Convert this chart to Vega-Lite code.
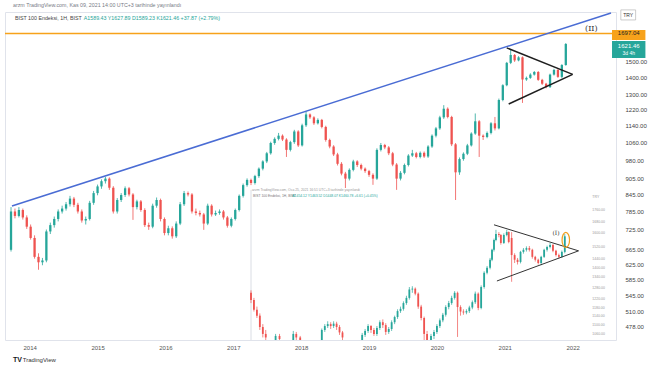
{
"$schema": "https://vega.github.io/schema/vega-lite/v6.json",
"width": 611, "height": 328,
"autosize": "none",
"padding": {"left": 5, "top": 12, "right": 38, "bottom": 26},
"background": "white",
"config": {"view": {"stroke": "#e0e3eb"}, "font": "Liberation Sans"},
"datasets": {
"main": [
{"t":2013.725,"o":665,"h":800,"l":660,"c":785},{"t":2013.783,"o":785,"h":795,"l":762,"c":770},{"t":2013.841,"o":770,"h":800,"l":765,"c":790},{"t":2013.899,"o":790,"h":795,"l":758,"c":765},{"t":2013.957,"o":765,"h":772,"l":728,"c":735},{"t":2014.014,"o":735,"h":742,"l":695,"c":700},{"t":2014.072,"o":700,"h":708,"l":640,"c":645},{"t":2014.130,"o":645,"h":655,"l":610,"c":630},{"t":2014.188,"o":630,"h":642,"l":622,"c":635},{"t":2014.246,"o":635,"h":726,"l":630,"c":720},
{"t":2014.304,"o":720,"h":748,"l":712,"c":740},{"t":2014.362,"o":740,"h":768,"l":732,"c":760},{"t":2014.420,"o":760,"h":792,"l":752,"c":785},{"t":2014.478,"o":785,"h":805,"l":778,"c":795},{"t":2014.536,"o":795,"h":818,"l":788,"c":810},{"t":2014.594,"o":810,"h":840,"l":802,"c":830},{"t":2014.652,"o":830,"h":836,"l":800,"c":808},{"t":2014.710,"o":808,"h":815,"l":778,"c":785},{"t":2014.768,"o":785,"h":792,"l":748,"c":755},{"t":2014.826,"o":755,"h":768,"l":742,"c":760},
{"t":2014.884,"o":760,"h":822,"l":755,"c":815},{"t":2014.942,"o":815,"h":858,"l":808,"c":850},{"t":2015.000,"o":850,"h":882,"l":842,"c":875},{"t":2015.058,"o":875,"h":902,"l":866,"c":895},{"t":2015.116,"o":895,"h":912,"l":886,"c":905},{"t":2015.174,"o":905,"h":910,"l":862,"c":870},{"t":2015.232,"o":870,"h":876,"l":778,"c":785},{"t":2015.290,"o":785,"h":832,"l":778,"c":825},{"t":2015.348,"o":825,"h":850,"l":818,"c":843},{"t":2015.406,"o":843,"h":875,"l":836,"c":868},
{"t":2015.464,"o":868,"h":873,"l":838,"c":845},{"t":2015.522,"o":845,"h":850,"l":757,"c":800},{"t":2015.580,"o":800,"h":826,"l":792,"c":820},{"t":2015.638,"o":820,"h":825,"l":784,"c":790},{"t":2015.696,"o":790,"h":796,"l":734,"c":740},{"t":2015.754,"o":740,"h":748,"l":725,"c":735},{"t":2015.812,"o":735,"h":812,"l":730,"c":805},{"t":2015.870,"o":805,"h":834,"l":798,"c":825},{"t":2015.928,"o":825,"h":830,"l":752,"c":760},{"t":2015.986,"o":760,"h":765,"l":708,"c":715},
{"t":2016.043,"o":715,"h":738,"l":708,"c":730},{"t":2016.101,"o":730,"h":736,"l":698,"c":705},{"t":2016.159,"o":705,"h":752,"l":700,"c":745},{"t":2016.217,"o":745,"h":818,"l":740,"c":810},{"t":2016.275,"o":810,"h":858,"l":804,"c":850},{"t":2016.333,"o":850,"h":856,"l":838,"c":845},{"t":2016.391,"o":845,"h":850,"l":778,"c":785},{"t":2016.449,"o":785,"h":795,"l":772,"c":780},{"t":2016.507,"o":780,"h":788,"l":768,"c":775},{"t":2016.565,"o":775,"h":780,"l":725,"c":745},
{"t":2016.623,"o":745,"h":812,"l":740,"c":805},{"t":2016.681,"o":805,"h":810,"l":768,"c":775},{"t":2016.739,"o":775,"h":788,"l":770,"c":780},{"t":2016.797,"o":780,"h":792,"l":774,"c":785},{"t":2016.855,"o":785,"h":790,"l":758,"c":765},{"t":2016.913,"o":765,"h":770,"l":732,"c":738},{"t":2016.971,"o":738,"h":765,"l":733,"c":760},{"t":2017.029,"o":760,"h":795,"l":755,"c":790},{"t":2017.087,"o":790,"h":845,"l":785,"c":840},{"t":2017.145,"o":840,"h":886,"l":834,"c":880},
{"t":2017.203,"o":880,"h":906,"l":874,"c":900},{"t":2017.261,"o":900,"h":905,"l":880,"c":888},{"t":2017.319,"o":888,"h":920,"l":882,"c":915},{"t":2017.377,"o":915,"h":950,"l":908,"c":945},{"t":2017.435,"o":945,"h":980,"l":938,"c":975},{"t":2017.493,"o":975,"h":1016,"l":968,"c":1010},{"t":2017.551,"o":1010,"h":1062,"l":1004,"c":1056},{"t":2017.609,"o":1056,"h":1082,"l":1048,"c":1075},{"t":2017.667,"o":1075,"h":1103,"l":1068,"c":1090},{"t":2017.725,"o":1090,"h":1096,"l":1065,"c":1072},
{"t":2017.783,"o":1072,"h":1078,"l":994,"c":1025},{"t":2017.841,"o":1025,"h":1066,"l":1018,"c":1060},{"t":2017.899,"o":1060,"h":1118,"l":1052,"c":1110},{"t":2017.957,"o":1110,"h":1116,"l":1038,"c":1045},{"t":2018.014,"o":1045,"h":1148,"l":1040,"c":1140},{"t":2018.072,"o":1140,"h":1210,"l":1132,"c":1195},{"t":2018.130,"o":1195,"h":1200,"l":1172,"c":1180},{"t":2018.188,"o":1180,"h":1186,"l":1142,"c":1150},{"t":2018.246,"o":1150,"h":1175,"l":1144,"c":1167},{"t":2018.304,"o":1167,"h":1172,"l":1125,"c":1132},
{"t":2018.362,"o":1132,"h":1138,"l":1062,"c":1070},{"t":2018.420,"o":1070,"h":1076,"l":1032,"c":1040},{"t":2018.478,"o":1040,"h":1046,"l":998,"c":1005},{"t":2018.536,"o":1005,"h":1012,"l":958,"c":965},{"t":2018.594,"o":965,"h":972,"l":918,"c":925},{"t":2018.652,"o":925,"h":932,"l":869,"c":905},{"t":2018.710,"o":905,"h":946,"l":898,"c":940},{"t":2018.768,"o":940,"h":982,"l":934,"c":975},{"t":2018.826,"o":975,"h":980,"l":952,"c":960},{"t":2018.884,"o":960,"h":966,"l":938,"c":945},
{"t":2018.942,"o":945,"h":950,"l":928,"c":935},{"t":2019.000,"o":935,"h":940,"l":912,"c":920},{"t":2019.058,"o":920,"h":926,"l":881,"c":905},{"t":2019.116,"o":905,"h":1032,"l":900,"c":1025},{"t":2019.174,"o":1025,"h":1056,"l":1018,"c":1047},{"t":2019.232,"o":1047,"h":1052,"l":1028,"c":1036},{"t":2019.290,"o":1036,"h":1042,"l":1002,"c":1010},{"t":2019.348,"o":1010,"h":1016,"l":955,"c":962},{"t":2019.406,"o":962,"h":968,"l":862,"c":905},{"t":2019.464,"o":905,"h":935,"l":898,"c":928},
{"t":2019.522,"o":928,"h":966,"l":922,"c":960},{"t":2019.580,"o":960,"h":1006,"l":954,"c":1000},{"t":2019.638,"o":1000,"h":1025,"l":994,"c":1010},{"t":2019.696,"o":1010,"h":1016,"l":988,"c":994},{"t":2019.754,"o":994,"h":1018,"l":988,"c":1012},{"t":2019.812,"o":1012,"h":1018,"l":990,"c":996},{"t":2019.870,"o":996,"h":1046,"l":990,"c":1040},{"t":2019.928,"o":1040,"h":1096,"l":1034,"c":1090},{"t":2019.986,"o":1090,"h":1132,"l":1082,"c":1125},{"t":2020.043,"o":1125,"h":1188,"l":1118,"c":1180},
{"t":2020.101,"o":1180,"h":1244,"l":1172,"c":1225},{"t":2020.159,"o":1225,"h":1232,"l":1175,"c":1182},{"t":2020.217,"o":1182,"h":1188,"l":1042,"c":1050},{"t":2020.275,"o":1050,"h":1056,"l":825,"c":930},{"t":2020.333,"o":930,"h":992,"l":920,"c":985},{"t":2020.391,"o":985,"h":1014,"l":978,"c":1008},{"t":2020.449,"o":1008,"h":1052,"l":1002,"c":1045},{"t":2020.507,"o":1045,"h":1106,"l":1040,"c":1100},{"t":2020.565,"o":1100,"h":1200,"l":1094,"c":1160},{"t":2020.623,"o":1160,"h":1166,"l":994,"c":1090},
{"t":2020.681,"o":1090,"h":1096,"l":1070,"c":1084},{"t":2020.739,"o":1084,"h":1110,"l":1078,"c":1103},{"t":2020.797,"o":1103,"h":1156,"l":1096,"c":1150},{"t":2020.855,"o":1150,"h":1182,"l":1115,"c":1125},{"t":2020.913,"o":1125,"h":1280,"l":1120,"c":1272},{"t":2020.971,"o":1272,"h":1362,"l":1265,"c":1356},{"t":2021.029,"o":1356,"h":1500,"l":1350,"c":1494},{"t":2021.087,"o":1494,"h":1580,"l":1486,"c":1546},{"t":2021.145,"o":1546,"h":1552,"l":1500,"c":1510},{"t":2021.203,"o":1510,"h":1538,"l":1504,"c":1530},
{"t":2021.261,"o":1530,"h":1536,"l":1256,"c":1390},{"t":2021.319,"o":1390,"h":1408,"l":1382,"c":1400},{"t":2021.377,"o":1400,"h":1428,"l":1394,"c":1420},{"t":2021.435,"o":1420,"h":1442,"l":1414,"c":1436},{"t":2021.493,"o":1436,"h":1442,"l":1382,"c":1388},{"t":2021.551,"o":1388,"h":1394,"l":1358,"c":1365},{"t":2021.609,"o":1365,"h":1370,"l":1338,"c":1345},{"t":2021.667,"o":1345,"h":1426,"l":1340,"c":1420},{"t":2021.725,"o":1420,"h":1456,"l":1414,"c":1449},{"t":2021.783,"o":1449,"h":1454,"l":1400,"c":1406},
{"t":2021.841,"o":1406,"h":1486,"l":1398,"c":1480},{"t":2021.899,"o":1480,"h":1628,"l":1475,"c":1621}
],
"inset": [
{"t":2017.261,"o":552,"h":558,"l":528,"c":535},{"t":2017.304,"o":535,"h":540,"l":509,"c":513},{"t":2017.348,"o":513,"h":520,"l":495,"c":500},{"t":2017.391,"o":500,"h":505,"l":470,"c":476},{"t":2017.435,"o":476,"h":482,"l":455,"c":462},{"t":2017.478,"o":462,"h":470,"l":448,"c":455},{"t":2017.623,"o":448,"h":462,"l":440,"c":458},{"t":2017.681,"o":458,"h":462,"l":445,"c":452},{"t":2017.884,"o":450,"h":468,"l":445,"c":462},{"t":2017.928,"o":462,"h":466,"l":448,"c":455},
{"t":2017.986,"o":455,"h":458,"l":440,"c":448},{"t":2018.304,"o":448,"h":473,"l":445,"c":470},{"t":2018.348,"o":470,"h":482,"l":466,"c":478},{"t":2018.391,"o":478,"h":488,"l":474,"c":482},{"t":2018.435,"o":482,"h":486,"l":472,"c":478},{"t":2018.478,"o":478,"h":488,"l":474,"c":483},{"t":2018.522,"o":483,"h":487,"l":470,"c":476},{"t":2018.565,"o":476,"h":480,"l":460,"c":465},{"t":2018.609,"o":465,"h":468,"l":448,"c":455},{"t":2018.899,"o":448,"h":464,"l":444,"c":460},
{"t":2018.942,"o":460,"h":472,"l":456,"c":468},{"t":2018.986,"o":468,"h":482,"l":464,"c":478},{"t":2019.029,"o":478,"h":480,"l":464,"c":470},{"t":2019.072,"o":470,"h":474,"l":458,"c":462},{"t":2019.116,"o":462,"h":478,"l":458,"c":474},{"t":2019.159,"o":474,"h":490,"l":470,"c":486},{"t":2019.203,"o":486,"h":492,"l":474,"c":480},{"t":2019.246,"o":480,"h":484,"l":460,"c":466},{"t":2019.290,"o":466,"h":476,"l":462,"c":472},{"t":2019.333,"o":472,"h":490,"l":468,"c":486},
{"t":2019.377,"o":486,"h":500,"l":482,"c":497},{"t":2019.420,"o":497,"h":514,"l":493,"c":510},{"t":2019.464,"o":510,"h":520,"l":506,"c":515},{"t":2019.507,"o":515,"h":532,"l":511,"c":528},{"t":2019.551,"o":528,"h":545,"l":524,"c":540},{"t":2019.594,"o":540,"h":566,"l":536,"c":560},{"t":2019.638,"o":560,"h":568,"l":552,"c":562},{"t":2019.681,"o":562,"h":565,"l":546,"c":550},{"t":2019.725,"o":550,"h":553,"l":515,"c":520},{"t":2019.768,"o":520,"h":524,"l":490,"c":495},
{"t":2019.812,"o":495,"h":498,"l":445,"c":462},{"t":2019.855,"o":462,"h":468,"l":430,"c":445},{"t":2019.913,"o":445,"h":462,"l":440,"c":458},{"t":2019.957,"o":458,"h":470,"l":452,"c":466},{"t":2020.000,"o":466,"h":482,"l":462,"c":478},{"t":2020.043,"o":478,"h":494,"l":474,"c":490},{"t":2020.087,"o":490,"h":506,"l":486,"c":502},{"t":2020.130,"o":502,"h":523,"l":498,"c":519},{"t":2020.174,"o":519,"h":533,"l":514,"c":528},{"t":2020.217,"o":528,"h":545,"l":524,"c":540},
{"t":2020.261,"o":540,"h":556,"l":536,"c":552},{"t":2020.304,"o":552,"h":555,"l":456,"c":519},{"t":2020.348,"o":519,"h":523,"l":500,"c":509},{"t":2020.391,"o":509,"h":514,"l":502,"c":507},{"t":2020.435,"o":507,"h":514,"l":503,"c":510},{"t":2020.478,"o":510,"h":522,"l":506,"c":518},{"t":2020.522,"o":518,"h":534,"l":514,"c":530},{"t":2020.565,"o":530,"h":555,"l":526,"c":550},{"t":2020.609,"o":550,"h":553,"l":512,"c":517},{"t":2020.652,"o":517,"h":570,"l":514,"c":566},
{"t":2020.696,"o":566,"h":606,"l":562,"c":602},{"t":2020.739,"o":602,"h":620,"l":598,"c":615},{"t":2020.783,"o":615,"h":642,"l":611,"c":637},{"t":2020.812,"o":637,"h":668,"l":633,"c":665},{"t":2020.841,"o":665,"h":698,"l":660,"c":694},{"t":2020.870,"o":694,"h":725,"l":690,"c":712},{"t":2020.913,"o":712,"h":718,"l":702,"c":709},{"t":2020.942,"o":709,"h":712,"l":680,"c":685},{"t":2020.986,"o":685,"h":714,"l":682,"c":709},{"t":2021.029,"o":709,"h":725,"l":705,"c":718},
{"t":2021.058,"o":718,"h":720,"l":684,"c":688},{"t":2021.101,"o":700,"h":718,"l":579,"c":650},{"t":2021.145,"o":650,"h":655,"l":628,"c":637},{"t":2021.188,"o":637,"h":642,"l":624,"c":631},{"t":2021.232,"o":631,"h":662,"l":627,"c":659},{"t":2021.275,"o":659,"h":670,"l":654,"c":665},{"t":2021.319,"o":665,"h":675,"l":660,"c":670},{"t":2021.362,"o":670,"h":676,"l":660,"c":665},{"t":2021.406,"o":665,"h":668,"l":640,"c":645},{"t":2021.449,"o":645,"h":648,"l":632,"c":637},
{"t":2021.493,"o":637,"h":640,"l":624,"c":628},{"t":2021.536,"o":628,"h":648,"l":622,"c":645},{"t":2021.580,"o":645,"h":668,"l":642,"c":665},{"t":2021.623,"o":665,"h":677,"l":660,"c":673},{"t":2021.667,"o":673,"h":685,"l":669,"c":679},{"t":2021.710,"o":679,"h":682,"l":658,"c":662},{"t":2021.754,"o":662,"h":665,"l":646,"c":650},{"t":2021.797,"o":650,"h":654,"l":640,"c":645},{"t":2021.841,"o":645,"h":663,"l":642,"c":659},{"t":2021.884,"o":659,"h":712,"l":655,"c":705}
],
"lines": [
{"g":"trend","e":"a","t":2013.739,"v":804},{"g":"trend","e":"a","t":2022.565,"v":1854},
{"g":"main","e":"upper","t":2021.029,"v":1594},{"g":"main","e":"upper","t":2022.0,"v":1421},
{"g":"main","e":"lower","t":2021.058,"v":1250},{"g":"main","e":"lower","t":2022.0,"v":1421},
{"g":"inset","e":"upper","t":2020.841,"v":741},{"g":"inset","e":"upper","t":2022.087,"v":662},
{"g":"inset","e":"lower","t":2020.884,"v":581},{"g":"inset","e":"lower","t":2022.087,"v":662}
],
"insetAxis": [
{"v":836,"label":"TRY"},{"v":790,"label":"1760.00"},{"v":750,"label":"1680.00"},{"v":715,"label":"1600.00"},{"v":673,"label":"1520.00"},{"v":639,"label":"1440.00"},{"v":615,"label":"1400.00"},{"v":591,"label":"1340.00"},{"v":564,"label":"1280.00"},{"v":538,"label":"1220.00"},{"v":517,"label":"1180.00"},{"v":500,"label":"1140.00"},{"v":480,"label":"1100.00"},{"v":462,"label":"1060.00"}
]
},
"layer": [
{"data": {"name": "main"},
 "mark": {"type": "rule", "strokeWidth": 0.8, "clip": true},
 "encoding": {
  "x": {"field": "t", "type": "quantitative", "title": null, "scale": {"domain": [2013.71, 2022.565], "nice": false, "zero": false},
        "axis": {"title": null, "values": [2014,2015,2016,2017,2018,2019,2020,2021,2022], "format": "d", "grid": false, "ticks": false, "domain": false, "labelFontSize": 6, "labelColor": "#555", "labelPadding": 4}},
  "y": {"field": "l", "type": "quantitative", "title": null, "scale": {"type": "log", "domain": [450, 1862], "nice": false},
        "axis": {"title": null, "orient": "right", "values": [478,510,545,585,625,665,725,785,845,905,980,1060,1140,1220,1300,1400,1500], "format": ".2f", "grid": false, "ticks": false, "domain": false, "labelFontSize": 6, "labelColor": "#444", "labelPadding": 9}},
  "y2": {"field": "h"},
  "color": {"condition": {"test": "datum.c >= datum.o", "value": "#26a69a"}, "value": "#ef5350"}
 }},
{"data": {"name": "main"},
 "mark": {"type": "bar", "width": 2.3, "clip": true},
 "encoding": {
  "x": {"field": "t", "type": "quantitative", "title": null},
  "y": {"field": "o", "type": "quantitative", "title": null},
  "y2": {"field": "c"},
  "color": {"condition": {"test": "datum.c >= datum.o", "value": "#26a69a"}, "value": "#ef5350"}
 }},
{"data": {"values": [{}]},
 "mark": {"type": "rule", "color": "#dadde4", "strokeWidth": 1},
 "encoding": {"x": {"datum": 2017.261, "type": "quantitative", "title": null}, "y": {"datum": 862, "type": "quantitative", "title": null}, "y2": {"datum": 450}}},
{"data": {"name": "inset"},
 "mark": {"type": "rule", "strokeWidth": 0.7, "clip": true},
 "encoding": {
  "x": {"field": "t", "type": "quantitative", "title": null},
  "y": {"field": "l", "type": "quantitative", "title": null},
  "y2": {"field": "h"},
  "color": {"condition": {"test": "datum.c >= datum.o", "value": "#26a69a"}, "value": "#ef5350"}
 }},
{"data": {"name": "inset"},
 "mark": {"type": "bar", "width": 1.8, "clip": true},
 "encoding": {
  "x": {"field": "t", "type": "quantitative", "title": null},
  "y": {"field": "o", "type": "quantitative", "title": null},
  "y2": {"field": "c"},
  "color": {"condition": {"test": "datum.c >= datum.o", "value": "#26a69a"}, "value": "#ef5350"}
 }},
{"data": {"values": [{"level": 1697.04}]},
 "mark": {"type": "rule", "color": "#f7a21b", "strokeWidth": 1.5},
 "encoding": {"y": {"field": "level", "type": "quantitative", "title": null}}},
{"data": {"name": "lines"},
 "transform": [{"filter": "datum.g == 'trend'"}],
 "mark": {"type": "line", "color": "#4a6cd4", "strokeWidth": 1.5, "clip": true},
 "encoding": {"x": {"field": "t", "type": "quantitative", "title": null}, "y": {"field": "v", "type": "quantitative", "title": null}, "detail": {"field": "e"}}},
{"data": {"name": "lines"},
 "transform": [{"filter": "datum.g == 'main'"}],
 "mark": {"type": "line", "color": "#1e1e1e", "strokeWidth": 1.5},
 "encoding": {"x": {"field": "t", "type": "quantitative", "title": null}, "y": {"field": "v", "type": "quantitative", "title": null}, "detail": {"field": "e"}}},
{"data": {"name": "lines"},
 "transform": [{"filter": "datum.g == 'inset'"}],
 "mark": {"type": "line", "color": "#333333", "strokeWidth": 1},
 "encoding": {"x": {"field": "t", "type": "quantitative", "title": null}, "y": {"field": "v", "type": "quantitative", "title": null}, "detail": {"field": "e"}}},
{"data": {"values": [{}]},
 "mark": {"type": "point", "shape": "M0,-1A0.5,1,0,1,1,0,1A0.5,1,0,1,1,0,-1Z", "size": 225, "filled": false, "color": "#f0a020", "strokeWidth": 1.2, "opacity": 1},
 "encoding": {"x": {"datum": 2021.899, "type": "quantitative", "title": null}, "y": {"datum": 694, "type": "quantitative", "title": null}}},
{"data": {"values": [{}]},
 "mark": {"type": "text", "text": "(I)", "font": "DejaVu Serif", "fontSize": 6, "color": "#333", "align": "center", "baseline": "middle"},
 "encoding": {"x": {"datum": 2021.754, "type": "quantitative", "title": null}, "y": {"datum": 715, "type": "quantitative", "title": null}}},
{"data": {"values": [{}]},
 "mark": {"type": "text", "text": "(II)", "font": "DejaVu Serif", "fontSize": 8, "color": "#333", "align": "center", "baseline": "middle"},
 "encoding": {"x": {"datum": 2022.275, "type": "quantitative", "title": null}, "y": {"datum": 1730, "type": "quantitative", "title": null}}},
{"data": {"name": "insetAxis"},
 "mark": {"type": "text", "fontSize": 3.5, "color": "#999", "align": "left", "baseline": "middle"},
 "encoding": {"x": {"datum": 2022.29, "type": "quantitative", "title": null}, "y": {"field": "v", "type": "quantitative", "title": null}, "text": {"field": "label"}}},
{"data": {"values": [{}]},
 "mark": {"type": "text", "text": "arzm TradingView.com, Oca 25, 2021 16:51 UTC+3 tarihinde yayınlandı", "fontSize": 3.4, "color": "#999", "align": "left", "baseline": "middle"},
 "encoding": {"x": {"datum": 2017.275, "type": "quantitative", "title": null}, "y": {"datum": 862, "type": "quantitative", "title": null}}},
{"data": {"values": [{}]},
 "mark": {"type": "text", "text": "BIST 100 Endeksi, 1H, BIST", "fontSize": 3.4, "color": "#777", "align": "left", "baseline": "middle"},
 "encoding": {"x": {"datum": 2017.29, "type": "quantitative", "title": null}, "y": {"datum": 840, "type": "quantitative", "title": null}}},
{"data": {"values": [{}]},
 "mark": {"type": "text", "text": "A1454.12  Y1463.52  D1448.07  K1460.78  +6.61 (+0.45%)", "fontSize": 3.4, "color": "#26a69a", "align": "left", "baseline": "middle"},
 "encoding": {"x": {"datum": 2017.87, "type": "quantitative", "title": null}, "y": {"datum": 840, "type": "quantitative", "title": null}}},
{"data": {"values": [{}]},
 "mark": {"type": "rect", "color": "#f7a21b"},
 "encoding": {"x": {"datum": 2022.58, "type": "quantitative", "title": null}, "x2": {"datum": 2023.072}, "y": {"datum": 1723, "type": "quantitative", "title": null}, "y2": {"datum": 1650}}},
{"data": {"values": [{}]},
 "mark": {"type": "text", "text": "1697.04", "fontSize": 6, "color": "#222", "align": "center", "baseline": "middle"},
 "encoding": {"x": {"datum": 2022.826, "type": "quantitative", "title": null}, "y": {"datum": 1697.04, "type": "quantitative", "title": null}}},
{"data": {"values": [{}]},
 "mark": {"type": "rect", "color": "#26a69a"},
 "encoding": {"x": {"datum": 2022.58, "type": "quantitative", "title": null}, "x2": {"datum": 2023.072}, "y": {"datum": 1643, "type": "quantitative", "title": null}, "y2": {"datum": 1526}}},
{"data": {"values": [{}]},
 "mark": {"type": "text", "text": "1621.46", "fontSize": 6, "color": "white", "align": "center", "baseline": "middle"},
 "encoding": {"x": {"datum": 2022.826, "type": "quantitative", "title": null}, "y": {"datum": 1608, "type": "quantitative", "title": null}}},
{"data": {"values": [{}]},
 "mark": {"type": "text", "text": "3d 4h", "fontSize": 5, "color": "white", "align": "center", "baseline": "middle"},
 "encoding": {"x": {"datum": 2022.826, "type": "quantitative", "title": null}, "y": {"datum": 1560, "type": "quantitative", "title": null}}},
{"data": {"values": [{}]},
 "mark": {"type": "rect", "fill": "white", "stroke": "#aaa", "strokeWidth": 0.6},
 "encoding": {"x": {"datum": 2022.71, "type": "quantitative", "title": null}, "x2": {"datum": 2022.928}, "y": {"datum": 1879, "type": "quantitative", "title": null}, "y2": {"datum": 1799}}},
{"data": {"values": [{}]},
 "mark": {"type": "text", "text": "TRY", "fontSize": 5, "color": "#333", "align": "center", "baseline": "middle"},
 "encoding": {"x": {"datum": 2022.819, "type": "quantitative", "title": null}, "y": {"datum": 1838, "type": "quantitative", "title": null}}},
{"data": {"values": [{}]},
 "mark": {"type": "text", "text": "arzm TradingView.com, Kas 09, 2021 14:00 UTC+3 tarihinde yayınlandı", "fontSize": 5.3, "color": "#787b86", "align": "left", "baseline": "middle"},
 "encoding": {"x": {"datum": 2013.754, "type": "quantitative", "title": null}, "y": {"datum": 1920, "type": "quantitative", "title": null}}},
{"data": {"values": [{}]},
 "mark": {"type": "text", "text": "BIST 100 Endeksi, 1H, BIST", "fontSize": 5.3, "color": "#444", "align": "left", "baseline": "middle"},
 "encoding": {"x": {"datum": 2013.783, "type": "quantitative", "title": null}, "y": {"datum": 1815, "type": "quantitative", "title": null}}},
{"data": {"values": [{}]},
 "mark": {"type": "text", "text": "A1589.43  Y1627.89  D1589.23  K1621.46  +37.87 (+2.79%)", "fontSize": 5.3, "color": "#26a69a", "align": "left", "baseline": "middle"},
 "encoding": {"x": {"datum": 2014.797, "type": "quantitative", "title": null}, "y": {"datum": 1815, "type": "quantitative", "title": null}}},
{"data": {"values": [{}]},
 "mark": {"type": "text", "text": "TV", "fontSize": 7, "fontWeight": "bold", "color": "#131722", "align": "left", "baseline": "middle"},
 "encoding": {"x": {"datum": 2013.754, "type": "quantitative", "title": null}, "y": {"datum": 413, "type": "quantitative", "title": null}}},
{"data": {"values": [{}]},
 "mark": {"type": "text", "text": "TradingView", "fontSize": 6, "color": "#333", "align": "left", "baseline": "middle"},
 "encoding": {"x": {"datum": 2013.899, "type": "quantitative", "title": null}, "y": {"datum": 413, "type": "quantitative", "title": null}}}
]
}
